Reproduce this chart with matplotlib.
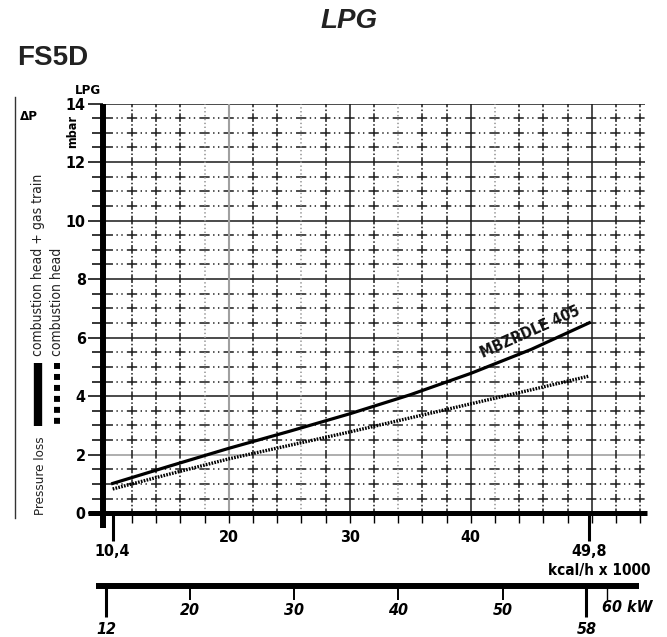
import matplotlib
matplotlib.use("Agg")
import matplotlib.pyplot as plt
from matplotlib.lines import Line2D
from matplotlib.ticker import FixedLocator, FixedFormatter, FuncFormatter, MultipleLocator
from matplotlib import font_manager

# pressure loss curves, kcal/h x 1000 -> mbar
kcal = [10.4, 15, 20, 25, 30, 35, 40, 45, 49.8]
dp_gastrain = [1.02, 1.6, 2.22, 2.8, 3.4, 4.05, 4.78, 5.6, 6.51]
dp_head = [0.83, 1.33, 1.86, 2.32, 2.78, 3.26, 3.74, 4.22, 4.69]
valve_label = "MBZRDLE 405"

kcal_range = [10.4, 49.8]
kcal_range_labels = ["10,4", "49,8"]
kcal_minor = list(range(12, 55, 2))
kcal_labelled = [20, 30, 40]
kw_ticks = [20, 30, 40, 50, 60]
kw_labels = ["20", "30", "40", "50", ""]
kw_range = [12, 58]
kw_range_labels = ["12", "58"]

# grid lines
hgrid = [v / 2 for v in range(1, 29)]
vgrid_black = [30, 40, 50]
vgrid_grey = [20]
vgrid_dotted = [18, 26, 34, 42]

names = {f.name for f in font_manager.fontManager.ttflist}
if "Liberation Sans Narrow" in names:
    plt.rcParams["font.family"] = ["Liberation Sans Narrow", "DejaVu Sans"]
else:
    plt.rcParams["font.family"] = ["DejaVu Sans"]
    plt.rcParams["font.stretch"] = "condensed"
plt.rcParams["font.weight"] = "bold"
plt.rcParams["lines.scale_dashes"] = False

W, H = 667, 637
fig = plt.figure(figsize=(W / 100, H / 100), dpi=100)


def fx(px):
    return px / W


def fy(py):
    return 1 - py / H


ax = fig.add_axes([fx(103), fy(513.3), (645 - 103) / W, (513.3 - 103.5) / H])
ax.set_xlim(9.6, 54.4)
ax.set_ylim(0, 14)
for s in ax.spines.values():
    s.set_visible(False)

hdash = (0.22, (7.4, 2.5, 1.0, 2.5, 1.0, 3.0))
vdash = (3.0, (6.2, 1.6, 1.1, 1.64))
for v in hgrid:
    if v == 2:
        ax.axhline(v, color="#a8a8a8", lw=1.3, zorder=1)
    elif v % 2 == 0:
        ax.axhline(v, color="#1a1a1a", lw=1.1, zorder=1)
    else:
        ax.axhline(v, color="#1a1a1a", lw=1.1, ls=hdash, zorder=1)
for v in kcal_minor:
    if v in vgrid_black:
        ax.axvline(v, color="#1a1a1a", lw=1.1, zorder=1)
    elif v in vgrid_grey:
        ax.axvline(v, color="#a0a0a0", lw=1.5, zorder=1)
    elif v in vgrid_dotted:
        ax.axvline(v, color="#999999", lw=1.2, ls=(0, (1.0, 1.8)), zorder=1)
    else:
        ax.axvline(v, color="#1a1a1a", lw=1.1, ls=vdash, zorder=1)

ax.plot(kcal, dp_gastrain, color="black", lw=2.3, zorder=3)
ax.plot(kcal, dp_head, color="black", lw=2.4, ls=(0, (1.2, 0.9)), zorder=3)
ax.text(44.9, 6.2, valve_label, rotation=24, ha="center", va="center",
        fontsize=11, color="#111111", zorder=4)

# thick axis bars
ax.plot([0, 0], [-0.5, 14.0], transform=ax.get_yaxis_transform(), color="black",
        lw=4.3, solid_capstyle="butt", clip_on=False, zorder=5)
ax.plot([8.36, 54.57], [0, 0], transform=ax.get_xaxis_transform(), color="black",
        lw=3.6, solid_capstyle="butt", clip_on=False, zorder=5)

ax.xaxis.set_major_locator(FixedLocator(kcal_range))
ax.xaxis.set_major_formatter(FixedFormatter(kcal_range_labels))
ax.xaxis.set_minor_locator(FixedLocator(kcal_minor))
ax.xaxis.set_minor_formatter(FuncFormatter(lambda v, p: f"{v:.0f}" if round(v) in kcal_labelled else ""))
ax.tick_params(axis="x", which="major", length=20, width=2.2, pad=2, labelsize=11.5)
ax.tick_params(axis="x", which="minor", length=7, width=1.0, pad=5, labelsize=11.5)

ax.yaxis.set_major_locator(MultipleLocator(2))
ax.yaxis.set_minor_locator(MultipleLocator(0.5))
ax.tick_params(axis="y", which="major", length=11, width=1.1, pad=1.4, labelsize=11.5)
ax.tick_params(axis="y", which="minor", length=8, width=1.1)

# kW scale
ax2 = fig.add_axes([fx(95.5), fy(586), (639 - 95.5) / W, 0.0001])
ax2.set_xlim(10.98, 63.04)
ax2.set_yticks([])
for k, s in ax2.spines.items():
    s.set_visible(k == "bottom")
ax2.spines["bottom"].set_linewidth(4.3)
ax2.spines["bottom"].set_capstyle("butt")
ax2.xaxis.set_major_locator(FixedLocator(kw_ticks))
ax2.xaxis.set_major_formatter(FixedFormatter(kw_labels))
ax2.xaxis.set_minor_locator(FixedLocator(kw_range))
ax2.xaxis.set_minor_formatter(FixedFormatter(kw_range_labels))
ax2.tick_params(which="major", length=10, width=1.4, pad=2, labelsize=11.5)
ax2.tick_params(which="minor", length=22, width=2.2, pad=3.6, labelsize=11.5)
plt.setp(ax2.get_xticklabels(which="both"), style="italic")
ax2.xaxis.get_major_ticks()[-1].tick1line.set_markeredgewidth(1.0)
ax2.annotate("60 kW", xy=(60, 0), xycoords=("data", "axes fraction"), xytext=(-4, -15.5),
             textcoords="offset points", ha="left", va="center", style="italic", fontsize=11.5)

fig.text(fx(650), fy(570), "kcal/h x 1000", ha="right", va="center", fontsize=11)

# left side labels
fig.add_artist(Line2D([fx(15), fx(15)], [fy(97), fy(518)], color="#333333", lw=1.0))
fig.text(fx(29), fy(116), "ΔP", ha="center", va="center", fontsize=9.5)
fig.text(fx(73), fy(115), "mbar", rotation=90, ha="center", va="top", fontsize=9)
fig.text(fx(38), fy(356), "combustion head + gas train", rotation=90, ha="center",
         va="bottom", fontsize=10, weight="normal", color="#222222")
fig.text(fx(57), fy(356), "combustion head", rotation=90, ha="center",
         va="bottom", fontsize=10, weight="normal", color="#222222")
fig.add_artist(Line2D([fx(37.5), fx(37.5)], [fy(363), fy(426)], color="black",
                      lw=6, solid_capstyle="butt"))
fig.add_artist(Line2D([fx(57), fx(57)], [fy(363), fy(428)], color="black",
                      lw=4.3, ls=(0, (4.3, 3.6)), dash_capstyle="butt"))
fig.text(fx(41), fy(515), "Pressure loss", rotation=90, ha="center", va="bottom",
         fontsize=9.5, weight="normal", color="#222222")
fig.text(fx(88), fy(91), "LPG", ha="center", va="center", fontsize=9.5)

fig.text(fx(349), fy(21), "LPG", family="Liberation Sans", style="italic", weight="bold",
         fontsize=20, ha="center", va="center", color="#222222")
fig.text(fx(17), fy(58), "FS5D", family="Liberation Sans", weight="bold",
         fontsize=20, ha="left", va="center", color="#222222")

fig.savefig("out.png", dpi=100)
